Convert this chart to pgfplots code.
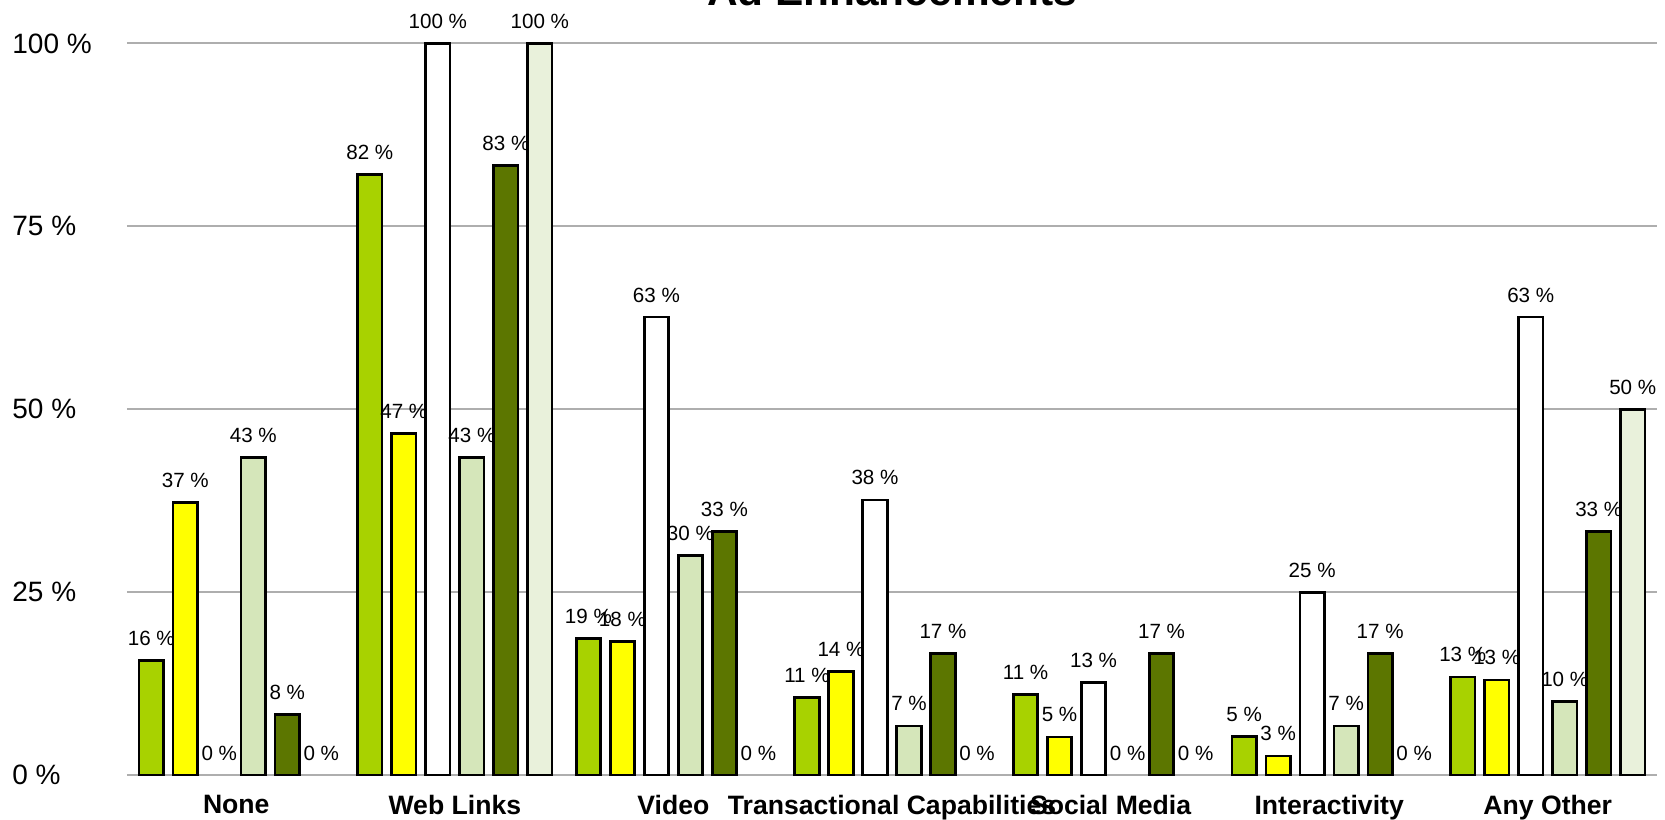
\documentclass[border=0pt]{standalone}
\usepackage{fontspec}
\setmainfont{Liberation Sans}
\usepackage{pgfplots}
\pgfplotsset{compat=1.18}

\definecolor{limeg}{HTML}{A8D200}
\definecolor{yell}{HTML}{FFFF00}
\definecolor{paleg}{HTML}{D5E6BA}
\definecolor{darkg}{HTML}{5C7600}
\definecolor{faintg}{HTML}{E9F1DB}
\definecolor{gridg}{HTML}{AEAEAE}

% zero bars are not drawn, only their labels
\pgfplotsset{zerobar/.style={draw=none, fill=none}}

\begin{document}
\begin{tikzpicture}
\begin{axis}[
    scale only axis,
    width=765pt, height=365.75pt,
    ybar, bar width=12.2pt,
    xmin=-0.5, xmax=6.5,
    ymin=0, ymax=100,
    clip=false,
    axis line style={draw=none},
    tick style={draw=none},
    ymajorgrids,
    grid style={gridg, line width=1pt},
    xtick={0,...,6},
    xticklabels={None, Web Links, Video, Transactional Capabilities, Social Media, Interactivity, Any Other},
    ytick={0,25,50,75,100},
    yticklabel={\pgfmathprintnumber{\tick}~\%},
    /pgf/number format/assume math mode=true,
    yticklabel style={font=\fontsize{14}{16}\selectfont, anchor=west, inner sep=0pt, xshift=-57.5pt},
    xticklabel style={font=\bfseries\fontsize{13.3}{16}\selectfont, anchor=north, inner sep=0pt, yshift=-5.5pt},
    every axis plot/.append style={draw=black, line width=1.4pt},
    nodes near coords={\pgfmathprintnumber[fixed,precision=0]{\pgfplotspointmeta}~\%},
    every node near coord/.append style={font=\fontsize{10.3}{12}\selectfont, anchor=base, inner sep=0pt, yshift=7.5pt, text=black},
]
\addplot[fill=limeg, bar shift=-42.5pt] coordinates {(0,15.7) (1,82.1) (2,18.7) (3,10.6) (4,11.0) (5,5.3) (6,13.4)};
\addplot[fill=yell, bar shift=-25.5pt] coordinates {(0,37.2) (1,46.7) (2,18.3) (3,14.2) (4,5.2) (5,2.6) (6,13.0)};
\addplot[fill=white, bar shift=-8.5pt] coordinates {(1,100) (2,62.6) (3,37.6) (4,12.6) (5,25) (6,62.6)};
\addplot[zerobar, bar shift=-8.5pt] coordinates {(0,0)};
\addplot[fill=paleg, bar shift=8.5pt] coordinates {(0,43.4) (1,43.4) (2,30.0) (3,6.7) (5,6.7) (6,10.0)};
\addplot[zerobar, bar shift=8.5pt] coordinates {(4,0)};
\addplot[fill=darkg, bar shift=25.5pt] coordinates {(0,8.3) (1,83.3) (2,33.3) (3,16.6) (4,16.6) (5,16.6) (6,33.3)};
\addplot[fill=faintg, bar shift=42.5pt] coordinates {(1,100) (6,50)};
\addplot[zerobar, bar shift=42.5pt] coordinates {(0,0) (2,0) (3,0) (4,0) (5,0)};
\node[font=\bfseries\fontsize{21.2}{24}\selectfont, anchor=base, yshift=19pt] at (rel axis cs:0.5,1) {Ad Enhancements};
\end{axis}
\pgfresetboundingbox
\path ([shift={(-63.5pt,-22pt)}]current axis.south west) rectangle ([shift={(4pt,21.75pt)}]current axis.north east);
\end{tikzpicture}
\end{document}
